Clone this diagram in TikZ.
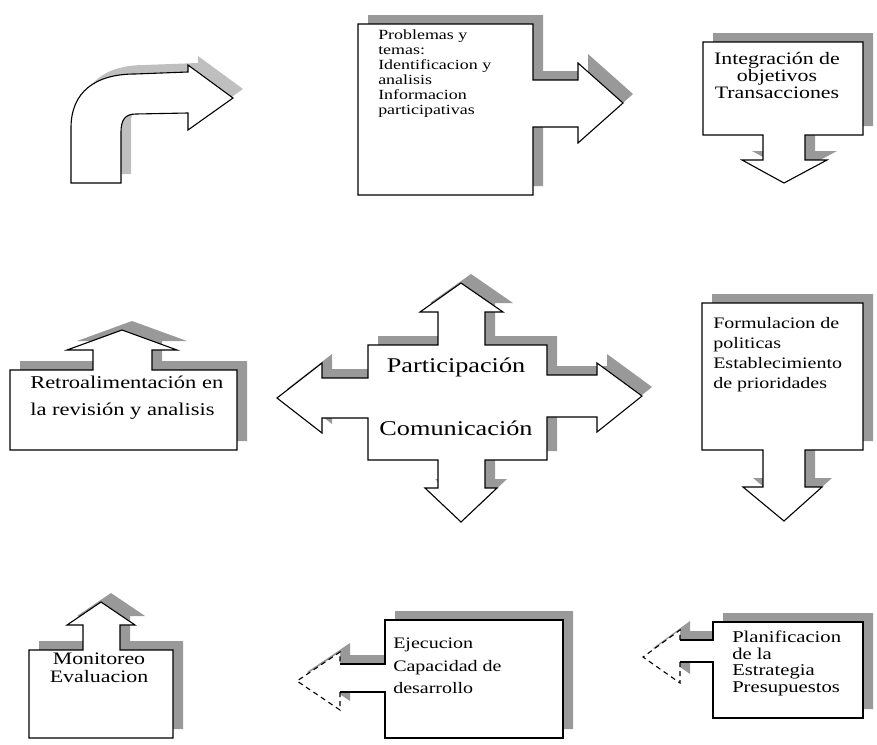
\documentclass[tikz,border=0pt]{standalone}
\usepackage{fontspec}
\setmainfont{Liberation Serif}
\newfontfamily\scanfont{Liberation Serif}
\begin{document}
\begin{tikzpicture}[x=1pt,y=-1pt,
  callout/.style={draw=black, line width=1.1pt, fill=white, line join=miter},
  fillonly/.style={fill=white, draw=none},
  edge/.style={draw=black, line width=1.1pt},
  faint/.style={draw=black, line width=1.1pt, dashed, dash pattern=on 5pt off 4pt},
  shadowfill/.style={fill=black!40, draw=none, shift={(10,-9)}},
  lbl/.style={inner sep=0pt, text=black, xscale=1.25, transform shape}]
\useasboundingbox (0,0) rectangle (877,744);

% ---------- paths ----------
\def\pCurve{(71,183) -- (71,128) .. controls (71,92) and (95,74) .. (135,74) -- (188,72) -- (188,65) -- (233,98) -- (188,130) -- (188,113) -- (136,114) .. controls (125,114) and (121,120) .. (121,132) -- (121,183) -- cycle}
\def\pProb{(358,24) -- (533,24) -- (533,80) -- (578,80) -- (578,63) -- (623,103) -- (578,143) -- (578,127) -- (533,127) -- (533,195) -- (358,195) -- cycle}
\def\pInteg{(703,42) -- (863,42) -- (863,135) -- (805,135) -- (805,160) -- (827,160) -- (784,183) -- (742,160) -- (763,160) -- (763,135) -- (703,135) -- cycle}
\def\pRetro{(10,370) -- (93,370) -- (93,350) -- (67,350) -- (122,330) -- (177,350) -- (152,350) -- (152,370) -- (237,370) -- (237,450) -- (10,450) -- cycle}
\def\pCentral{(368,345) -- (438,345) -- (438,312) -- (420,312) -- (461,283) -- (503,312) -- (485,312) -- (485,345) -- (547,345) -- (547,375) -- (597,375) -- (597,363) -- (642,396) -- (597,432) -- (597,417) -- (547,417) -- (547,460) -- (485,460) -- (485,488) -- (497,488) -- (461,522) -- (425,488) -- (438,488) -- (438,460) -- (368,460) -- (368,418) -- (322,418) -- (322,433) -- (277,398) -- (322,363) -- (322,378) -- (368,378) -- cycle}
\def\pForm{(702,303) -- (863,303) -- (863,450) -- (805,450) -- (805,487) -- (822,487) -- (784,521) -- (743,487) -- (763,487) -- (763,450) -- (702,450) -- cycle}
\def\pMonit{(29,650) -- (83,650) -- (83,625) -- (67,625) -- (101,602) -- (135,625) -- (120,625) -- (120,650) -- (173,650) -- (173,738) -- (29,738) -- cycle}
\def\pEjec{(385,620) -- (563,620) -- (563,738) -- (385,738) -- (385,692) -- (340,692) -- (340,710) -- (297,681) -- (340,652) -- (340,664) -- (385,664) -- cycle}
\def\pPlan{(713,622) -- (863,622) -- (863,718) -- (713,718) -- (713,662) -- (680,662) -- (680,683) -- (643,657) -- (680,630) -- (680,640) -- (713,640) -- cycle}

% ---------- shadows ----------
\fill[shadowfill, fill=black!25] \pCurve;
\fill[shadowfill] \pProb;
\fill[shadowfill] \pInteg;
\fill[shadowfill] \pRetro;
\fill[shadowfill] \pCentral;
\fill[shadowfill] \pForm;
\fill[shadowfill] \pMonit;
\fill[shadowfill] \pEjec;
\fill[shadowfill] \pPlan;

% ---------- shapes ----------
\path[callout] \pCurve;
\path[callout] \pProb;
\path[callout] \pInteg;
\path[callout] \pRetro;
\path[callout] \pCentral;
\path[callout] \pForm;
\path[callout] \pMonit;
% bottom-row left arrows: head drawn faint
\path[fillonly] \pEjec;
\draw[edge] (340,664) -- (385,664) -- (385,620) -- (563,620) -- (563,738) -- (385,738) -- (385,692) -- (340,692);
\draw[faint] (340,692) -- (340,710) -- (297,681) -- (340,652) -- (340,664);
\path[fillonly] \pPlan;
\draw[edge] (680,640) -- (713,640) -- (713,622) -- (863,622) -- (863,718) -- (713,718) -- (713,662) -- (680,662);
\draw[faint] (680,662) -- (680,683) -- (643,657) -- (680,630) -- (680,640);

% ---------- texts ----------
\node[lbl, font=\scanfont\fontsize{14}{15}\selectfont, align=left, anchor=north west, xscale=1.28/1.25] (tprob) at (378,30)
  {Problemas y\\temas:\\Identificacion y\\analisis\\Informacion\\participativas};
\node[lbl, font=\scanfont\fontsize{17.5}{17}\selectfont, align=center, anchor=north] (tinteg) at (777,52)
  {Integración de\\objetivos\\Transacciones};
\node[lbl, font=\scanfont\fontsize{18}{27}\selectfont, align=left, anchor=north west] (tretro) at (30,376)
  {Retroalimentación en\\la revisión y analisis};
\node[lbl, font=\scanfont\fontsize{21}{25}\selectfont, anchor=base] (tpart) at (456,372) {Participación};
\node[lbl, font=\scanfont\fontsize{21}{25}\selectfont, anchor=base] (tcomu) at (456,435) {Comunicación};
\node[lbl, font=\scanfont\fontsize{16}{20}\selectfont, align=left, anchor=north west] (tform) at (713,317)
  {Formulacion de\\politicas\\Establecimiento\\de prioridades};
\node[lbl, font=\scanfont\fontsize{17.5}{18}\selectfont, align=center, anchor=north] (tmonit) at (99,653)
  {Monitoreo\\Evaluacion};
\node[lbl, font=\scanfont\fontsize{16}{22.5}\selectfont, align=left, anchor=north west] (tejec) at (393,638)
  {Ejecucion\\Capacidad de\\desarrollo};
\node[lbl, font=\scanfont\fontsize{16.5}{16.5}\selectfont, align=left, anchor=north west] (tplan) at (732,631)
  {Planificacion\\de la\\Estrategia\\Presupuestos};
\end{tikzpicture}
\end{document}
